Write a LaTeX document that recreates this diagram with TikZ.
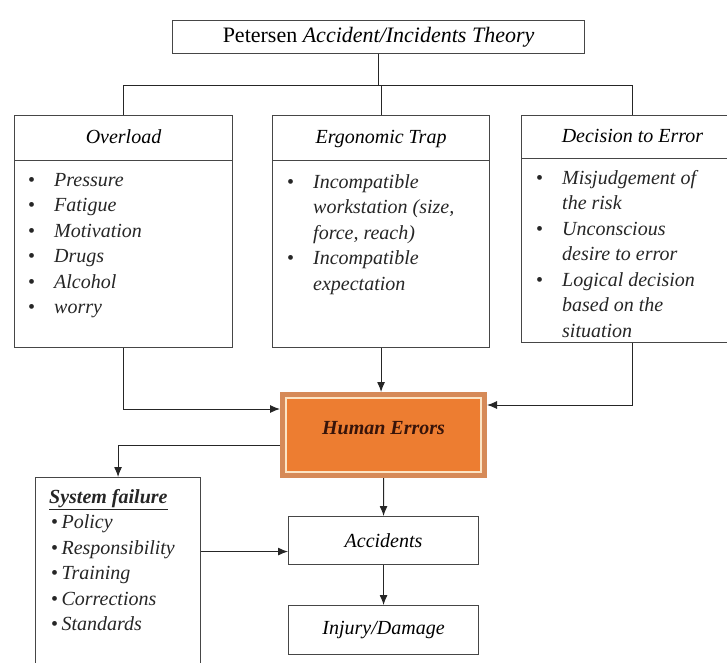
\documentclass[tikz,border=0pt]{standalone}
\usepackage{fontspec}
\setmainfont{Liberation Serif}
\usepackage{xcolor}
\usepackage{tikz}
\usetikzlibrary{arrows, arrows.meta}
\usetikzlibrary{shapes,fit,calc,positioning}

\definecolor{errfill}{RGB}{237,125,49}
\definecolor{errband}{RGB}{214,138,88}
\definecolor{errline}{RGB}{252,228,196}
\definecolor{errtext}{RGB}{55,20,10}
\definecolor{boxline}{RGB}{70,70,70}

\newcommand{\itembul}{\makebox[26pt][l]{\textbullet}}
\newcommand{\itemgap}{\hspace*{26pt}}

\begin{document}
\begin{tikzpicture}[x=1pt,y=-1pt,
  font=\fontsize{20}{25.5}\selectfont,
  box/.style={draw=boxline, line width=1.1pt, fill=white, inner sep=0pt},
  head/.style={box, text height=14pt, text depth=4pt},
  lst/.style={anchor=north west, inner sep=0pt, align=left, text=black!85},
  link/.style={draw=black!85, line width=1pt, -{Latex[length=10pt,width=8pt]}}]

\useasboundingbox (0,0) rectangle (727,662);

\coordinate(O1) at (172,20);
\node[below right=0cm of O1, box, minimum width=412pt, minimum height=33pt](theory) {\fontsize{22}{26}\selectfont Petersen \textit{Accident/Incidents Theory}};


\coordinate(O1) at (14,115);
\node[below right=0cm of O1, box, minimum width=218pt, minimum height=232pt](ovbox) {};
\node[below right=0cm of O1, head, minimum width=218pt, minimum height=45pt](ovhead) {\textit{Overload}};
\node[lst](ovlist) at (28,173) {\itembul\textit{Pressure}\\ \itembul\textit{Fatigue}\\ \itembul\textit{Motivation}\\ \itembul\textit{Drugs}\\ \itembul\textit{Alcohol}\\ \itembul\textit{worry}};

\coordinate(O1) at (272,115);
\node[below right=0cm of O1, box, minimum width=217pt, minimum height=232pt](etbox) {};
\node[below right=0cm of O1, head, minimum width=217pt, minimum height=45pt](ethead) {\textit{Ergonomic Trap}};
\node[lst](etlist) at (287,174) {\itembul\textit{Incompatible}\\ \itemgap\textit{workstation (size,}\\ \itemgap\textit{force, reach)}\\ \itembul\textit{Incompatible}\\ \itemgap\textit{expectation}};

\coordinate(O1) at (521,115);
\node[below right=0cm of O1, box, minimum width=222pt, minimum height=227pt](debox) {};
\node[below right=0cm of O1, head, minimum width=222pt, minimum height=43pt](dehead) {\textit{Decision to Error}};
\node[lst](delist) at (536,170) {\itembul\textit{Misjudgement of}\\ \itemgap\textit{the risk}\\ \itembul\textit{Unconscious}\\ \itemgap\textit{desire to error}\\ \itembul\textit{Logical decision}\\ \itemgap\textit{based on the}\\ \itemgap\textit{situation}};

% human errors block
\coordinate(O1) at (280,392);
\node[below right=0cm of O1, draw=errband, line width=6pt, fill=errfill, minimum width=201pt, minimum height=80pt, text depth=14pt, text=errtext, font=\fontsize{20}{24}\selectfont\bfseries\itshape](err) {Human Errors};
\draw[errline, line width=1.8pt] ([shift={(6.3pt,-6.3pt)}]err.north west) rectangle ([shift={(-6.3pt,6.3pt)}]err.south east);

\coordinate(O1) at (35,477);
\node[below right=0cm of O1, box, minimum width=165pt, minimum height=230pt](sfbox) {};
\node[lst](sflist) at (49,489) {\textbf{\textit{\underline{System failure}}}\\ \hspace*{2pt}\textbullet\,\textit{Policy}\\ \hspace*{2pt}\textbullet\,\textit{Responsibility}\\ \hspace*{2pt}\textbullet\,\textit{Training}\\ \hspace*{2pt}\textbullet\,\textit{Corrections}\\ \hspace*{2pt}\textbullet\,\textit{Standards}};

\coordinate(O1) at (288,516);
\node[below right=0cm of O1, box, minimum width=190pt, minimum height=48pt](acc) {\textit{Accidents}};

\coordinate(O1) at (288,605);
\node[below right=0cm of O1, box, minimum width=190pt, minimum height=49pt](inj) {\textit{Injury/Damage}};

% tree from the theory box
\draw[draw=black!85, line width=1pt] (theory.south) -- ++(0,31) coordinate (hub);
\draw[draw=black!85, line width=1pt] (ovhead.north) |- (hub) -| (dehead.north);
\draw[draw=black!85, line width=1pt] (ethead.north) -- (ethead.north |- hub);

\draw[link] (ovbox.south) |- ([yshift=26pt]err.west);
\draw[link] (etbox.south) -- (etbox.south |- err.north);
\draw[link] (debox.south) |- ([yshift=30pt]err.east);

\draw[link] ([yshift=-10pt]err.west) -| (sfbox.north);
\draw[link] (err.south) -- (acc.north);
\draw[link] (acc.south) -- (inj.north);
\coordinate (sfin) at ([yshift=-11pt]acc.west);
\draw[link] (sfin -| sfbox.east) -- (sfin);
\end{tikzpicture}
\end{document}
